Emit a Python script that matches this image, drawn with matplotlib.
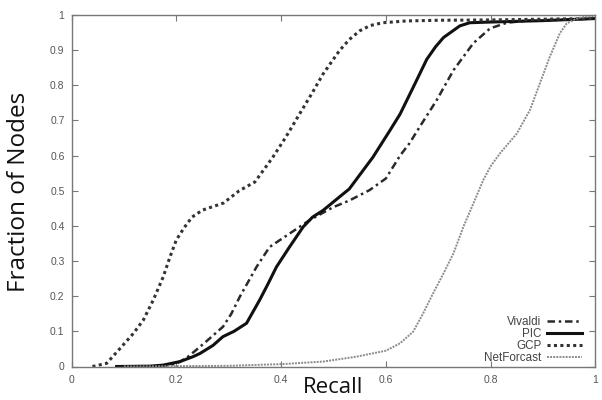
import matplotlib
matplotlib.use("Agg")
import matplotlib.pyplot as plt

# ---- data ----
gcp_x = [0.04, 0.067, 0.093, 0.118, 0.137, 0.156, 0.175, 0.188, 0.20, 0.215, 0.23, 0.25, 0.27,
         0.29, 0.32, 0.35, 0.384, 0.41, 0.435, 0.46, 0.48, 0.511, 0.53, 0.55, 0.57, 0.594,
         0.638, 0.7, 0.8, 0.9, 1.0]
gcp_y = [0.0, 0.009, 0.052, 0.094, 0.132, 0.189, 0.255, 0.312, 0.36, 0.395, 0.425, 0.445, 0.455,
         0.465, 0.50, 0.525, 0.595, 0.655, 0.718, 0.78, 0.832, 0.898, 0.93, 0.955, 0.97, 0.978,
         0.983, 0.985, 0.986, 0.988, 0.99]

pic_x = [0.086, 0.15, 0.175, 0.207, 0.232, 0.245, 0.27, 0.289, 0.31, 0.334, 0.359, 0.375, 0.391,
         0.416, 0.442, 0.46, 0.48, 0.511, 0.53, 0.55, 0.575, 0.607, 0.627, 0.652, 0.678, 0.695,
         0.71, 0.741, 0.76, 0.8, 0.9, 1.0]
pic_y = [0.0, 0.001, 0.004, 0.014, 0.028, 0.037, 0.06, 0.085, 0.10, 0.123, 0.189, 0.235, 0.283,
         0.34, 0.397, 0.425, 0.444, 0.482, 0.505, 0.545, 0.595, 0.67, 0.718, 0.794, 0.874, 0.91,
         0.936, 0.969, 0.978, 0.98, 0.984, 0.99]

viv_x = [0.17, 0.2, 0.22, 0.238, 0.26, 0.289, 0.305, 0.321, 0.353, 0.378, 0.397, 0.435, 0.454,
         0.499, 0.53, 0.569, 0.6, 0.627, 0.645, 0.665, 0.697, 0.729, 0.767, 0.799, 0.831, 0.87,
         0.95, 1.0]
viv_y = [0.0, 0.008, 0.025, 0.047, 0.075, 0.113, 0.15, 0.198, 0.283, 0.34, 0.359, 0.397, 0.416,
         0.453, 0.472, 0.502, 0.535, 0.60, 0.635, 0.683, 0.758, 0.843, 0.92, 0.962, 0.978, 0.984,
         0.987, 0.99]

net_x = [0.1, 0.3, 0.404, 0.48, 0.544, 0.6, 0.627, 0.652, 0.671, 0.69, 0.71, 0.729, 0.748, 0.767,
         0.786, 0.80, 0.818, 0.85, 0.875, 0.894, 0.913, 0.932, 0.945, 0.964, 0.98, 1.0]
net_y = [0.0, 0.002, 0.007, 0.014, 0.028, 0.045, 0.066, 0.099, 0.151, 0.208, 0.265, 0.322, 0.398,
         0.464, 0.531, 0.57, 0.607, 0.663, 0.73, 0.806, 0.882, 0.948, 0.976, 0.99, 0.995, 0.997]

x_ticks = [0, 0.2, 0.4, 0.6, 0.8, 1]
x_tick_labels = ["0", "0.2", "0.4", "0.6", "0.8", "1"]
y_ticks = [0, 0.1, 0.2, 0.3, 0.4, 0.5, 0.6, 0.7, 0.8, 0.9, 1]
y_tick_labels = ["0", "0.1", "0.2", "0.3", "0.4", "0.5", "0.6", "0.7", "0.8", "0.9", "1"]

fig = plt.figure(figsize=(6.02, 4.0), dpi=100)
ax = fig.add_axes([0.1188, 0.08375, 0.8704, 0.87875])

ax.plot(viv_x, viv_y, color="#2a2a2a", lw=1.8, linestyle=(0, (3, 1.5, 1, 1.5)), label="Vivaldi")
ax.plot(pic_x, pic_y, color="#111111", lw=2.2, linestyle="-", label="PIC")
ax.plot(gcp_x, gcp_y, color="#333333", lw=2.2, linestyle=(0, (1, 1.1)), label="GCP")
ax.plot(net_x, net_y, color="#8a8a8a", lw=1.4, linestyle=(0, (1, 0.6)), label="NetForcast")

ax.set_xlim(0, 1)
ax.set_ylim(0, 1)
ax.set_xticks(x_ticks)
ax.set_xticklabels(x_tick_labels)
ax.set_yticks(y_ticks)
ax.set_yticklabels(y_tick_labels)
ax.tick_params(direction="in", top=True, right=True, length=4, width=0.8,
               colors="#777777", labelcolor="#555555", labelsize=7.5)
ax.tick_params(axis="x", pad=6)
ax.tick_params(axis="y", pad=5)
for lab in ax.get_xticklabels() + ax.get_yticklabels():
    lab.set_family("Liberation Sans")
for s in ax.spines.values():
    s.set_color("#777777")
    s.set_linewidth(1.0)

ax.set_xlabel("Recall", fontsize=16, family="Open Sans", color="#111111")
ax.xaxis.set_label_coords(0.5, -0.031)
ax.set_ylabel("Fraction of Nodes", fontsize=17.5, family="Open Sans", color="#111111")
ax.yaxis.set_label_coords(-0.077, 0.497)

leg = ax.legend(loc="lower right", bbox_to_anchor=(0.978, 0.0), frameon=False,
                markerfirst=False, prop={"family": "Liberation Sans", "size": 8.4},
                handlelength=3.0, labelspacing=0.0, handletextpad=0.45,
                borderaxespad=0.0, borderpad=0.2, alignment="right")
for t in leg.get_texts():
    t.set_color("#444444")
    t.set_ha("right")

fig.savefig("out.png", dpi=100)
